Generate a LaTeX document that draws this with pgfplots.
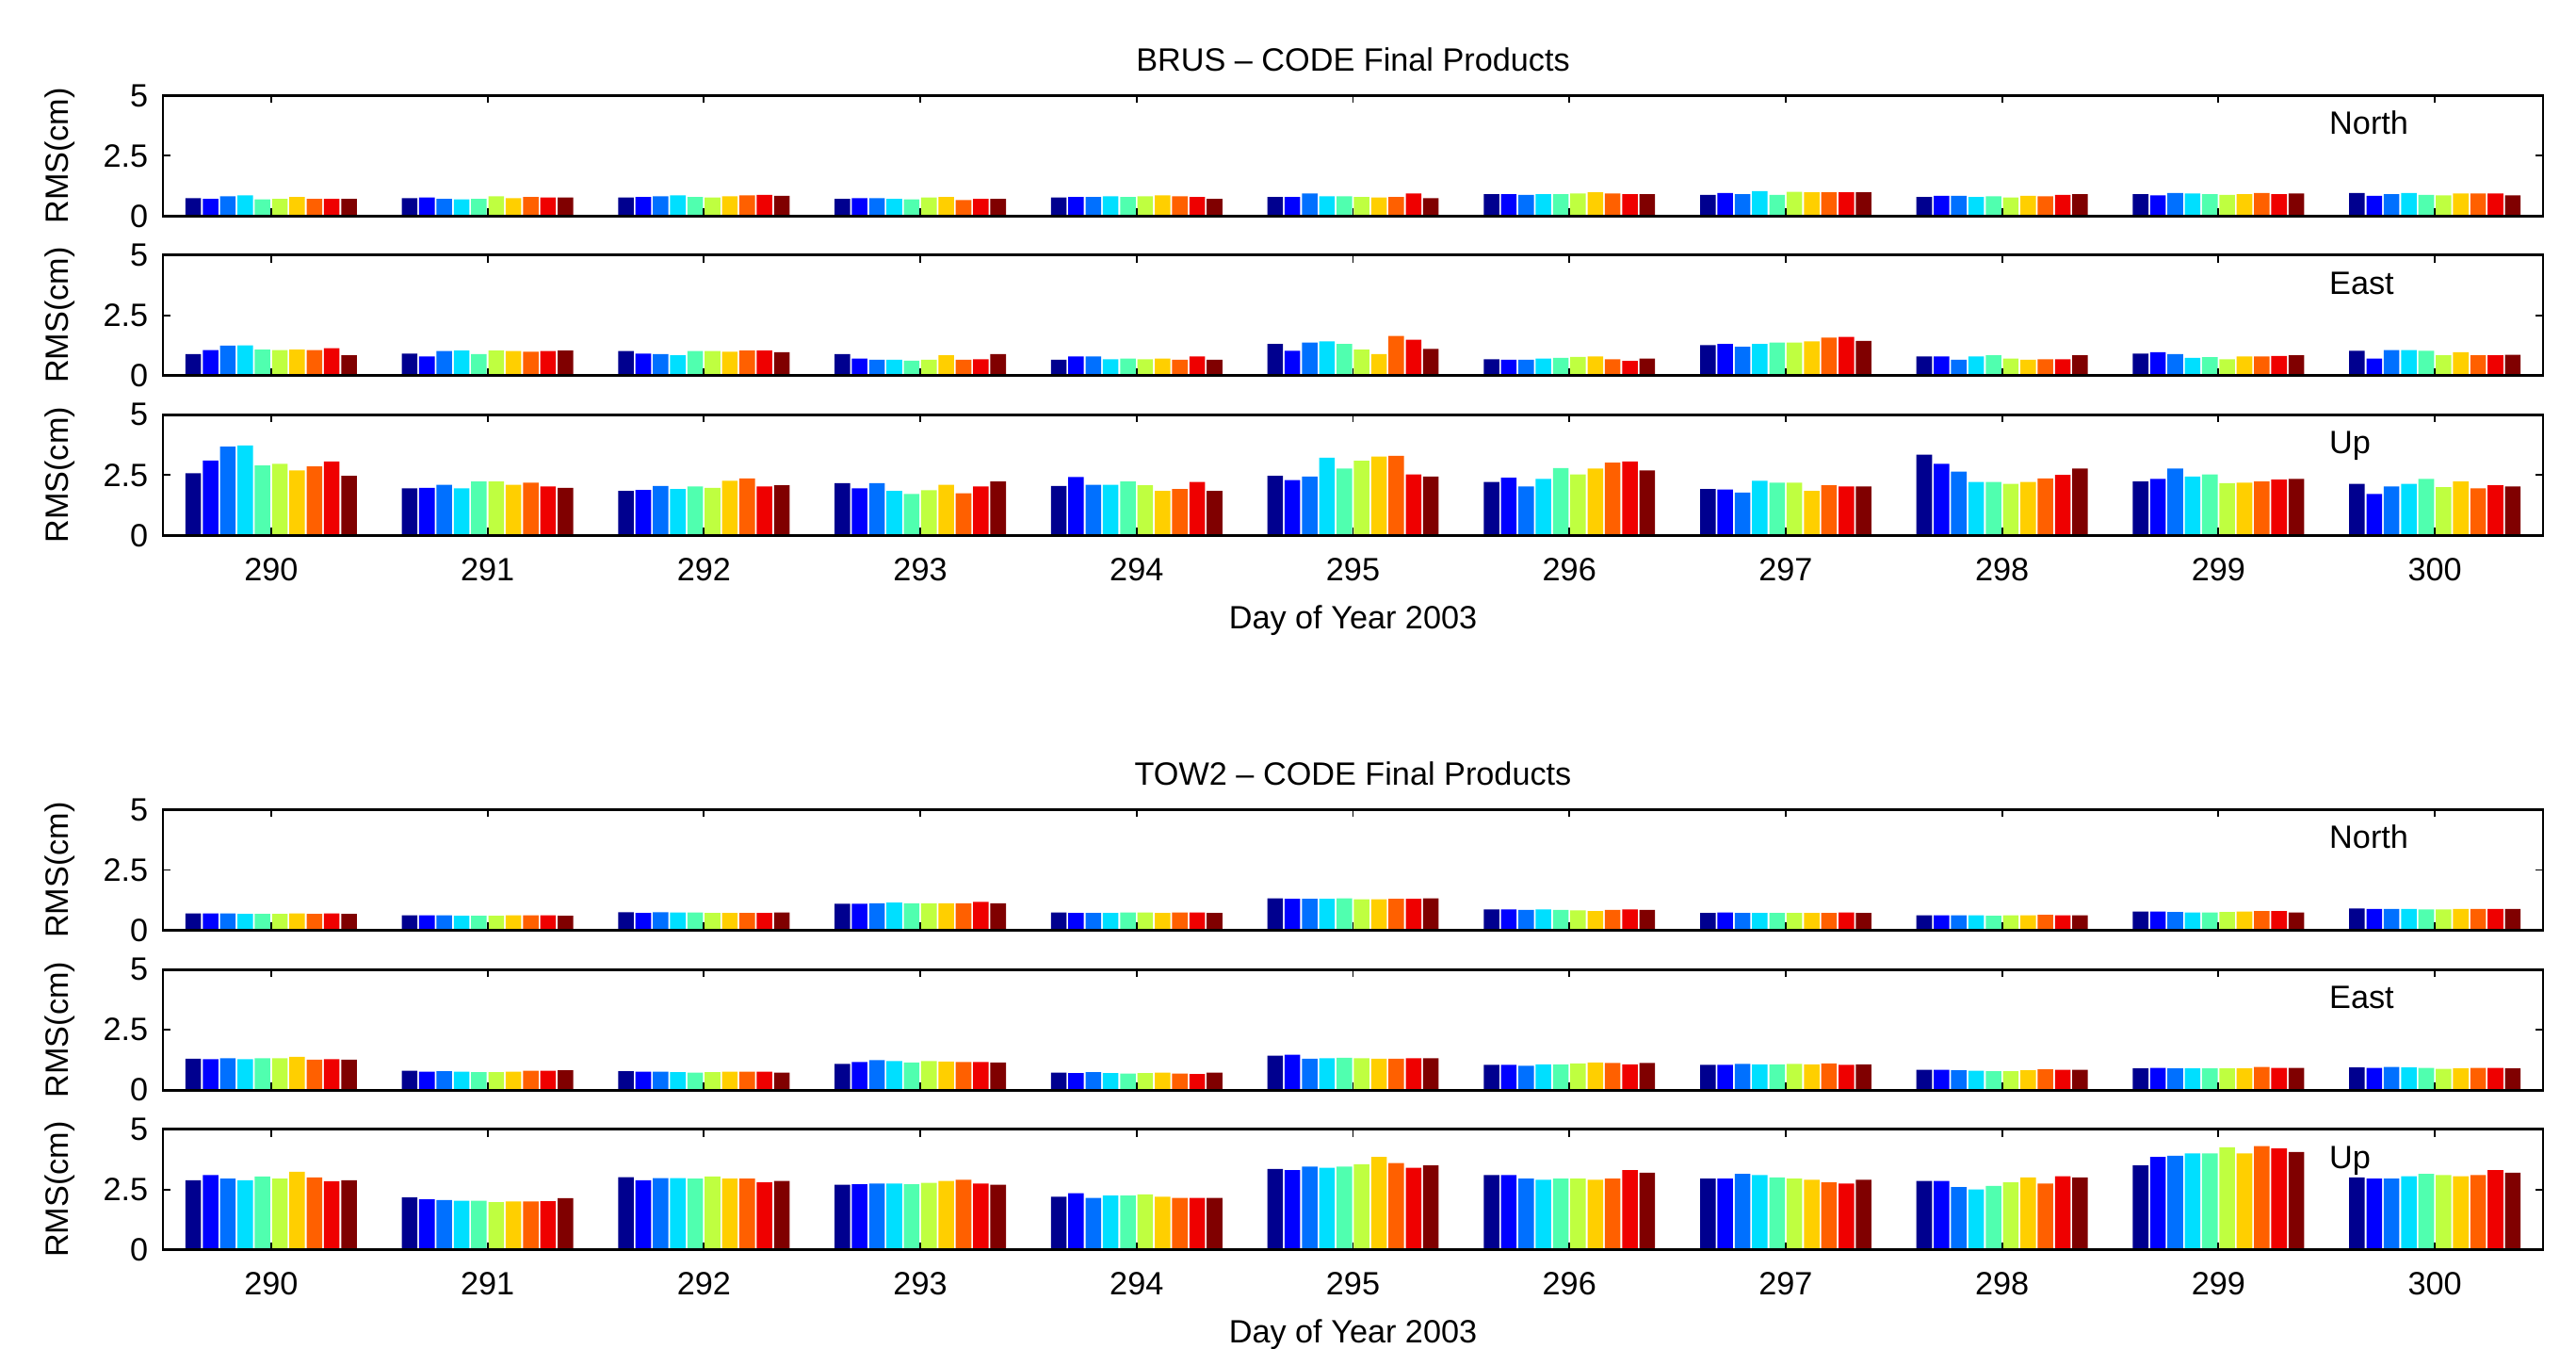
\documentclass[border=0pt]{standalone}
\usepackage{fontspec}
\setmainfont{Liberation Sans}
\usepackage{pgfplots}
\usepackage{pgfplotstable}
\pgfplotsset{compat=1.18}

\definecolor{j1}{rgb}{0,0,0.5625}
\definecolor{j2}{rgb}{0,0,1}
\definecolor{j3}{rgb}{0,0.4375,1}
\definecolor{j4}{rgb}{0,0.875,1}
\definecolor{j5}{rgb}{0.3125,1,0.6875}
\definecolor{j6}{rgb}{0.75,1,0.25}
\definecolor{j7}{rgb}{1,0.8125,0}
\definecolor{j8}{rgb}{1,0.375,0}
\definecolor{j9}{rgb}{0.9375,0,0}
\definecolor{j10}{rgb}{0.5,0,0}

\pgfplotstableread{
x b1 b2 b3 b4 b5 b6 b7 b8 b9 b10
1 0.74 0.71 0.82 0.86 0.69 0.71 0.79 0.71 0.71 0.71
2 0.74 0.77 0.71 0.69 0.71 0.82 0.74 0.79 0.77 0.77
3 0.77 0.79 0.82 0.86 0.79 0.77 0.82 0.86 0.88 0.84
4 0.71 0.74 0.74 0.71 0.69 0.77 0.79 0.66 0.71 0.71
5 0.77 0.79 0.79 0.82 0.79 0.82 0.86 0.82 0.79 0.71
6 0.79 0.79 0.94 0.82 0.82 0.79 0.77 0.79 0.94 0.74
7 0.91 0.91 0.88 0.91 0.91 0.94 0.99 0.94 0.91 0.91
8 0.88 0.96 0.91 1.04 0.88 1.01 0.99 0.99 0.99 0.99
9 0.79 0.84 0.84 0.79 0.82 0.77 0.84 0.82 0.88 0.91
10 0.91 0.86 0.96 0.94 0.91 0.88 0.91 0.96 0.91 0.94
11 0.96 0.84 0.91 0.96 0.88 0.86 0.94 0.94 0.94 0.86
}\brusN

\pgfplotstableread{
x b1 b2 b3 b4 b5 b6 b7 b8 b9 b10
1 0.89 1.06 1.24 1.25 1.08 1.06 1.08 1.06 1.13 0.84
2 0.91 0.79 1.02 1.04 0.89 1.04 1.02 0.99 1.02 1.04
3 1.02 0.91 0.89 0.84 1.02 1.02 0.99 1.04 1.04 0.97
4 0.89 0.71 0.66 0.66 0.62 0.66 0.84 0.66 0.68 0.89
5 0.66 0.79 0.79 0.68 0.71 0.68 0.71 0.66 0.79 0.66
6 1.31 1.03 1.37 1.42 1.31 1.08 0.89 1.64 1.49 1.11
7 0.68 0.66 0.66 0.71 0.73 0.77 0.79 0.68 0.61 0.71
8 1.26 1.31 1.19 1.31 1.37 1.37 1.42 1.57 1.60 1.44
9 0.79 0.79 0.66 0.79 0.84 0.71 0.66 0.68 0.68 0.84
10 0.91 0.97 0.89 0.73 0.76 0.68 0.79 0.79 0.81 0.84
11 1.03 0.71 1.06 1.06 1.03 0.84 0.97 0.84 0.84 0.86
}\brusE

\pgfplotstableread{
x b1 b2 b3 b4 b5 b6 b7 b8 b9 b10
1 2.57 3.10 3.68 3.73 2.90 2.96 2.69 2.86 3.06 2.47
2 1.95 1.97 2.10 1.95 2.23 2.23 2.10 2.18 2.03 1.97
3 1.84 1.88 2.05 1.92 2.03 1.97 2.26 2.36 2.03 2.08
4 2.16 1.95 2.16 1.84 1.71 1.87 2.10 1.74 2.03 2.23
5 2.05 2.42 2.10 2.10 2.23 2.08 1.84 1.92 2.21 1.84
6 2.47 2.29 2.44 3.22 2.77 3.09 3.27 3.30 2.53 2.44
7 2.21 2.39 2.03 2.34 2.79 2.53 2.77 3.01 3.06 2.69
8 1.92 1.90 1.77 2.26 2.18 2.18 1.84 2.08 2.03 2.03
9 3.35 2.96 2.64 2.21 2.21 2.13 2.21 2.36 2.51 2.77
10 2.23 2.34 2.77 2.44 2.53 2.16 2.18 2.23 2.31 2.34
11 2.13 1.71 2.03 2.13 2.34 2.00 2.23 1.95 2.08 2.03
}\brusU

\pgfplotstableread{
x b1 b2 b3 b4 b5 b6 b7 b8 b9 b10
1 0.70 0.70 0.70 0.68 0.68 0.68 0.70 0.68 0.70 0.68
2 0.62 0.62 0.62 0.60 0.60 0.60 0.62 0.62 0.62 0.60
3 0.75 0.72 0.75 0.74 0.74 0.72 0.72 0.72 0.72 0.74
4 1.10 1.10 1.12 1.15 1.12 1.12 1.12 1.12 1.18 1.12
5 0.74 0.72 0.72 0.72 0.74 0.74 0.72 0.74 0.74 0.72
6 1.32 1.30 1.30 1.30 1.32 1.28 1.28 1.30 1.30 1.32
7 0.86 0.86 0.84 0.86 0.84 0.82 0.80 0.84 0.86 0.84
8 0.72 0.74 0.72 0.72 0.72 0.72 0.72 0.72 0.74 0.72
9 0.62 0.62 0.62 0.62 0.60 0.62 0.62 0.64 0.62 0.62
10 0.78 0.78 0.76 0.74 0.74 0.76 0.78 0.80 0.80 0.74
11 0.90 0.88 0.88 0.88 0.86 0.86 0.88 0.88 0.88 0.88
}\towN

\pgfplotstableread{
x b1 b2 b3 b4 b5 b6 b7 b8 b9 b10
1 1.30 1.28 1.32 1.28 1.32 1.32 1.38 1.26 1.28 1.26
2 0.80 0.76 0.78 0.76 0.74 0.74 0.76 0.80 0.80 0.82
3 0.78 0.76 0.76 0.74 0.72 0.74 0.76 0.76 0.76 0.72
4 1.08 1.16 1.24 1.20 1.14 1.20 1.18 1.16 1.16 1.14
5 0.72 0.70 0.74 0.70 0.68 0.70 0.72 0.68 0.66 0.72
6 1.42 1.46 1.30 1.32 1.34 1.32 1.30 1.30 1.32 1.32
7 1.04 1.04 1.00 1.06 1.06 1.10 1.14 1.12 1.06 1.12
8 1.04 1.04 1.08 1.06 1.06 1.08 1.06 1.10 1.04 1.06
9 0.84 0.84 0.82 0.80 0.78 0.78 0.82 0.86 0.84 0.84
10 0.90 0.92 0.90 0.90 0.90 0.90 0.90 0.96 0.92 0.92
11 0.94 0.92 0.96 0.94 0.92 0.88 0.90 0.92 0.92 0.90
}\towE

\pgfplotstableread{
x b1 b2 b3 b4 b5 b6 b7 b8 b9 b10
1 2.88 3.10 2.95 2.88 3.04 2.95 3.23 3.00 2.84 2.88
2 2.17 2.09 2.06 2.03 2.03 1.97 2.00 2.00 2.01 2.14
3 3.01 2.88 2.97 2.97 2.95 3.04 2.95 2.95 2.80 2.85
4 2.70 2.72 2.75 2.75 2.72 2.78 2.85 2.90 2.75 2.70
5 2.20 2.35 2.15 2.25 2.25 2.30 2.20 2.15 2.15 2.15
6 3.35 3.30 3.45 3.40 3.45 3.55 3.85 3.60 3.40 3.50
7 3.10 3.10 2.95 2.90 2.95 2.95 2.90 2.95 3.30 3.20
8 2.95 2.95 3.15 3.10 3.00 2.95 2.90 2.80 2.75 2.90
9 2.85 2.85 2.60 2.50 2.65 2.80 3.00 2.75 3.05 3.00
10 3.50 3.85 3.90 4.00 4.00 4.25 4.00 4.30 4.20 4.05
11 3.00 2.95 2.95 3.05 3.15 3.10 3.05 3.10 3.30 3.20
}\towU

\newcommand\bars[1]{%
  \addplot[ybar, bar width=0.072, draw=none, fill=j1,  bar shift=-0.36] table[x=x,y=b1]{#1};
  \addplot[ybar, bar width=0.072, draw=none, fill=j2,  bar shift=-0.28] table[x=x,y=b2]{#1};
  \addplot[ybar, bar width=0.072, draw=none, fill=j3,  bar shift=-0.20] table[x=x,y=b3]{#1};
  \addplot[ybar, bar width=0.072, draw=none, fill=j4,  bar shift=-0.12] table[x=x,y=b4]{#1};
  \addplot[ybar, bar width=0.072, draw=none, fill=j5,  bar shift=-0.04] table[x=x,y=b5]{#1};
  \addplot[ybar, bar width=0.072, draw=none, fill=j6,  bar shift=0.04] table[x=x,y=b6]{#1};
  \addplot[ybar, bar width=0.072, draw=none, fill=j7,  bar shift=0.12] table[x=x,y=b7]{#1};
  \addplot[ybar, bar width=0.072, draw=none, fill=j8,  bar shift=0.20] table[x=x,y=b8]{#1};
  \addplot[ybar, bar width=0.072, draw=none, fill=j9,  bar shift=0.28] table[x=x,y=b9]{#1};
  \addplot[ybar, bar width=0.072, draw=none, fill=j10, bar shift=0.36] table[x=x,y=b10]{#1};
}

\pgfplotsset{
  panel/.style={
    scale only axis, width=789.7pt, height=40pt, anchor=south west,
    xmin=0.5, xmax=11.5, ymin=0, ymax=5,
    xtick={1,...,11}, ytick={0,2.5,5}, yticklabels={0,2.5,5},
    xticklabels={},
    tick align=inside, tickpos=both, major tick length=2.5pt,
    xticklabel pos=lower, yticklabel pos=left,
    axis line style={line width=0.9pt},
    major tick style={line width=0.6pt, black},
    axis on top,
    font=\fontsize{10.7}{12.8}\selectfont,
    ylabel={RMS(cm)},
    ylabel style={at={(axis description cs:-0.0431,0.5)}, anchor=center},
    yticklabel style={xshift=-1.4pt},
    xticklabel style={anchor=base, yshift=-15pt},
    xlabel style={at={(axis description cs:0.5,0)}, anchor=base, yshift=-31pt},
    title style={at={(axis description cs:0.5,1)}, anchor=base, yshift=2.2pt},
    clip=false,
  },
  bottompanel/.style={
    xticklabels={290,291,292,293,294,295,296,297,298,299,300},
    xlabel={Day of Year 2003},
  },
}

\begin{document}
\begin{tikzpicture}[font=\fontsize{10.7}{12.8}\selectfont]
\path[use as bounding box] (0,0) rectangle (854.69pt,447.19pt);

\begin{axis}[panel, at={(54.06pt,375.5pt)}, title={BRUS -- CODE Final Products}]
\bars{\brusN}
\node[anchor=base west, inner sep=0pt] at (axis cs:10.51,3.38) {North};
\end{axis}

\begin{axis}[panel, at={(54.06pt,322.6pt)}]
\bars{\brusE}
\node[anchor=base west, inner sep=0pt] at (axis cs:10.51,3.38) {East};
\end{axis}

\begin{axis}[panel, bottompanel, at={(54.06pt,269.6pt)}]
\bars{\brusU}
\node[anchor=base west, inner sep=0pt] at (axis cs:10.51,3.38) {Up};
\end{axis}

\begin{axis}[panel, at={(54.06pt,138.6pt)}, title={TOW2 -- CODE Final Products}]
\bars{\towN}
\node[anchor=base west, inner sep=0pt] at (axis cs:10.51,3.38) {North};
\end{axis}

\begin{axis}[panel, at={(54.06pt,85.6pt)}]
\bars{\towE}
\node[anchor=base west, inner sep=0pt] at (axis cs:10.51,3.38) {East};
\end{axis}

\begin{axis}[panel, bottompanel, at={(54.06pt,32.6pt)}]
\bars{\towU}
\node[anchor=base west, inner sep=0pt] at (axis cs:10.51,3.38) {Up};
\end{axis}

\end{tikzpicture}
\end{document}
